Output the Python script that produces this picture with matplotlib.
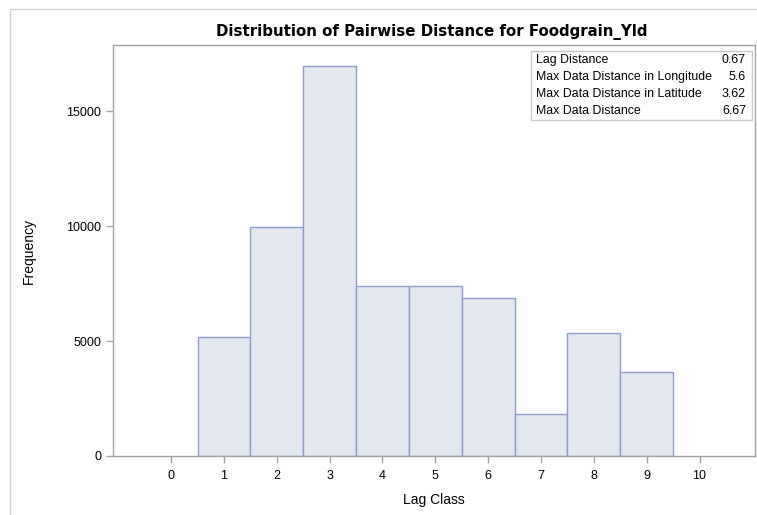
import matplotlib
matplotlib.use("Agg")
import matplotlib.pyplot as plt
from matplotlib.patches import Rectangle

# histogram data
lag_class = [0, 1, 2, 3, 4, 5, 6, 7, 8, 9, 10]
frequency = [0, 5160, 9970, 16970, 7390, 7390, 6870, 1830, 5350, 3640, 0]
y_ticks = [0, 5000, 10000, 15000]

table_labels = ["Lag Distance", "Max Data Distance in Longitude",
                "Max Data Distance in Latitude", "Max Data Distance"]
table_values = ["0.67", "5.6", "3.62", "6.67"]

plt.rcParams['font.family'] = ['Liberation Sans', 'DejaVu Sans']

W, H = 757, 515
fig = plt.figure(figsize=(W / 100, H / 100), dpi=100)

# outer frame of the graph
fig.patches.append(Rectangle((10 / W, -0.1), 1.2, (H - 9) / H + 0.1,
                             transform=fig.transFigure, fill=False,
                             edgecolor="#cfd2d6", linewidth=1))

ax = fig.add_axes([113 / W, (H - 456) / H, (755 - 113) / W, (456 - 45) / H])
edges = ["#909ccb" if f > 0 else "none" for f in frequency]
ax.bar(lag_class, frequency, width=1.0, color="#e3e7f0",
       edgecolor=edges, linewidth=1.0)

ax.set_xlim(-1.1, 11.05)
ax.set_ylim(0, 17870)
ax.set_xticks(lag_class)
ax.set_yticks(y_ticks)
ax.tick_params(axis="both", colors="#a0a4a8", labelcolor="black",
               labelsize=9, length=5, width=1)
ax.tick_params(axis="x", pad=5)
for s in ax.spines.values():
    s.set_color("#a0a4a8")
    s.set_linewidth(1)

ax.set_xlabel("Lag Class", fontsize=10, labelpad=8)
ax.set_ylabel("Frequency", fontsize=10, labelpad=22)
fig.text(432 / W, 1 - 32 / H,
         "Distribution of Pairwise Distance for Foodgrain_Yld",
         ha="center", va="center", fontsize=10.8, fontweight="bold",
         family="DejaVu Sans")

# inset table
fig.patches.append(Rectangle((531 / W, 1 - 120 / H), (752 - 531) / W,
                             (120 - 51) / H, transform=fig.transFigure,
                             facecolor="white", edgecolor="#c8c8c8",
                             linewidth=1))
for i, (lab, val) in enumerate(zip(table_labels, table_values)):
    yy = 1 - (60 + i * 17) / H
    fig.text(536 / W, yy, lab, ha="left", va="center", fontsize=8.9)
    fig.text(746 / W, yy, val, ha="right", va="center", fontsize=8.9)

fig.savefig("out.png", dpi=100)
